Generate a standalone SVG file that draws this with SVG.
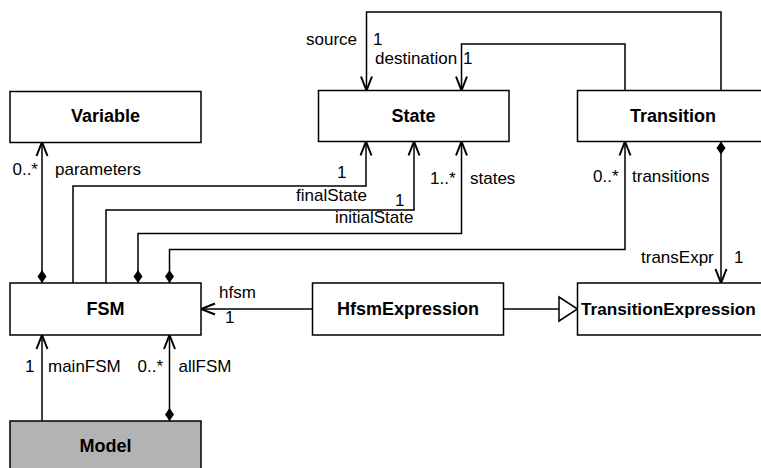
<svg xmlns="http://www.w3.org/2000/svg" width="761" height="468" viewBox="0 0 761 468">
<style>
.box{fill:#fff;stroke:#000;stroke-width:1.5}
.gray{fill:#b3b3b3}
.title{font-family:"Liberation Sans",Arial,sans-serif;font-weight:bold;font-size:18px;text-anchor:middle;fill:#000}
.lbl{font-family:"Liberation Sans",Arial,sans-serif;font-size:17px;fill:#000}
.end{text-anchor:end}
.ln{fill:none;stroke:#000;stroke-width:1.5}
.arr{marker-end:url(#arrow)}
.dia{marker-start:url(#diamond)}
</style>
<defs>
<marker id="arrow" viewBox="-16 -8 18 16" refX="0" refY="0" markerWidth="18" markerHeight="16" markerUnits="userSpaceOnUse" orient="auto">
<path d="M-14,-5.5 L0,0 L-14,5.5" fill="none" stroke="#000" stroke-width="2"/>
</marker>
<marker id="diamond" viewBox="-1 -6 15 12" refX="0" refY="0" markerWidth="15" markerHeight="12" markerUnits="userSpaceOnUse" orient="auto">
<path d="M0,0 L6.5,-4.5 L13,0 L6.5,4.5 Z" fill="#000"/>
</marker>
</defs>
<g id="connectors">
<path class="ln dia arr" d="M42,283 L42,142"/>
<path class="ln arr" d="M73,283 L73,186 L366,186 L366,141.5"/>
<path class="ln arr" d="M106,283 L106,210 L414,210 L414,141.5"/>
<path class="ln dia arr" d="M138,283 L138,233.5 L461.5,233.5 L461.5,141.5"/>
<path class="ln dia arr" d="M169.5,283 L169.5,249.5 L625,249.5 L625,141.5"/>
<path class="ln dia arr" d="M721,141.5 L721,283"/>
<path class="ln arr" d="M721,90.5 L721,12 L366.5,12 L366.5,90.5"/>
<path class="ln arr" d="M625,90.5 L625,44 L461.5,44 L461.5,90.5"/>
<path class="ln arr" d="M312.5,309 L201,309"/>
<path class="ln" d="M503.5,309 L559,309"/>
<polygon points="559,297 577.5,309 559,321" fill="#fff" stroke="#000" stroke-width="1.5"/>
<path class="ln arr" d="M42,421 L42,335"/>
<path class="ln dia arr" d="M169.5,421 L169.5,335"/>
<text class="lbl end" x="38" y="175">0..*</text>
<text class="lbl" x="55" y="175">parameters</text>
<text class="lbl" x="337" y="178">1</text>
<text class="lbl" x="296" y="200.5">finalState</text>
<text class="lbl" x="395" y="205.5">1</text>
<text class="lbl" x="335" y="223">initialState</text>
<text class="lbl" x="430" y="184">1..*</text>
<text class="lbl" x="470" y="184">states</text>
<text class="lbl" x="593" y="181.5">0..*</text>
<text class="lbl" x="632" y="181.5">transitions</text>
<text class="lbl" x="641" y="263">transExpr</text>
<text class="lbl" x="734" y="263">1</text>
<text class="lbl end" x="357" y="45">source</text>
<text class="lbl" x="373" y="45">1</text>
<text class="lbl" x="375" y="64">destination</text>
<text class="lbl" x="463" y="64">1</text>
<text class="lbl" x="219" y="298">hfsm</text>
<text class="lbl" x="225" y="322.5">1</text>
<text class="lbl" x="25" y="372">1</text>
<text class="lbl" x="48" y="372">mainFSM</text>
<text class="lbl" x="137.5" y="372">0..*</text>
<text class="lbl" x="178.5" y="372">allFSM</text>
</g>
<g id="Variable"><rect class="box" x="10" y="91.5" width="191" height="51"/><text class="title" x="105.5" y="122">Variable</text></g>
<g id="State"><rect class="box" x="318.5" y="90.5" width="190.5" height="51"/><text class="title" x="413.5" y="122">State</text></g>
<g id="Transition"><rect class="box" x="577.5" y="90.5" width="191" height="51"/><text class="title" x="673" y="122">Transition</text></g>
<g id="FSM"><rect class="box" x="10" y="283" width="191" height="52"/><text class="title" x="105.5" y="315">FSM</text></g>
<g id="HfsmExpression"><rect class="box" x="312.5" y="283" width="191" height="52"/><text class="title" x="408" y="315">HfsmExpression</text></g>
<g id="TransitionExpression"><rect class="box" x="577.5" y="283" width="191" height="52"/><text class="title" x="581" y="315" style="text-anchor:start;font-size:17.2px">TransitionExpression</text></g>
<g id="Model"><rect class="box gray" x="10" y="421" width="191" height="52"/><text class="title" x="105.5" y="452">Model</text></g>
</svg>
